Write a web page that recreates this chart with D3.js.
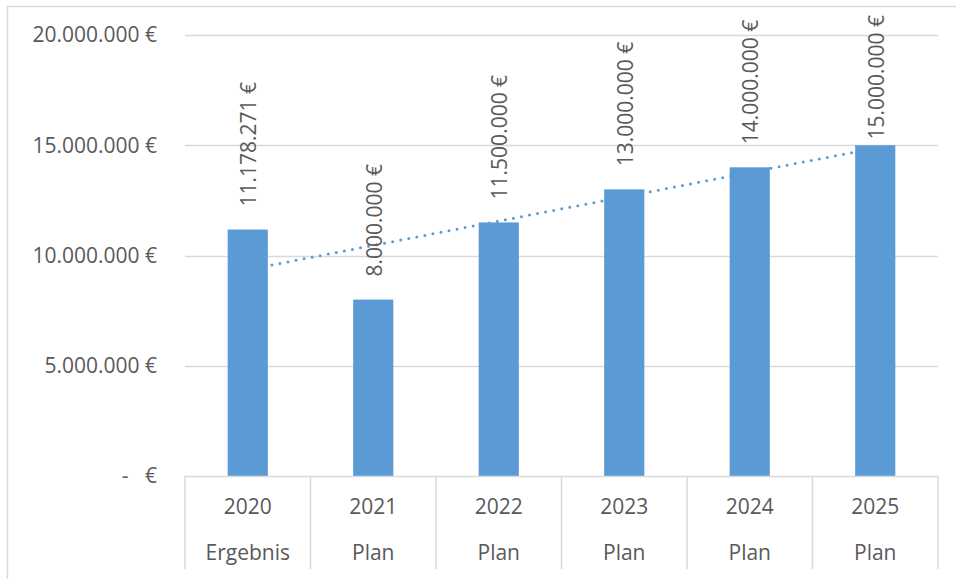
<!DOCTYPE html>
<html><head><meta charset="utf-8">
<script src="https://cdn.jsdelivr.net/npm/d3@7"></script>
<style>
html,body{margin:0;padding:0;background:#fff;}
svg text{font-family:"Open Sans","Noto Sans",sans-serif;fill:#595959;}
</style></head>
<body><svg id="c" width="956" height="579"></svg>
<script>
const years = ["2020","2021","2022","2023","2024","2025"];
const kinds = ["Ergebnis","Plan","Plan","Plan","Plan","Plan"];
const values = [11178271, 8000000, 11500000, 13000000, 14000000, 15000000];
const yTicks = [0, 5000000, 10000000, 15000000, 20000000];
const yTickLabels = ["-   €", "5.000.000 €", "10.000.000 €", "15.000.000 €", "20.000.000 €"];
const valueLabels = ["11.178.271 €","8.000.000 €","11.500.000 €","13.000.000 €","14.000.000 €","15.000.000 €"];

const svg = d3.select("#c");
const W = 956, H = 579;
const L = 185, R = 938, T = 35, B = 476;
const FS = 21;
const barColor = "#5b9bd5", gridColor = "#d9d9d9";

// outer chart border
svg.append("path").attr("d", `M7.5,${H+2} V6.5 H${W+2}`).attr("fill","none").attr("stroke",gridColor).attr("stroke-width",1.5);

const x = d3.scaleBand().domain(years).range([L, R]).paddingInner(0.68).paddingOuter(0.34);
const xs = d3.scaleBand().domain(years).range([L, R]).padding(0);
const y = d3.scaleLinear().domain([0, 20000000]).range([B, T]);

// gridlines
svg.append("g").selectAll("line").data(yTicks.slice(1)).join("line")
  .attr("x1", L).attr("x2", R).attr("y1", d => Math.round(y(d)) + 0.5).attr("y2", d => Math.round(y(d)) + 0.5)
  .attr("stroke", gridColor).attr("stroke-width", 1.5);

// y tick labels
svg.append("g").selectAll("text").data(yTicks).join("text")
  .attr("x", 157).attr("y", d => y(d)).attr("dy", "0.35em")
  .attr("text-anchor", "end").attr("font-size", FS).style("white-space","pre")
  .text((d, i) => yTickLabels[i]);

// trendline (linear regression over category index)
const n = values.length;
const xi = d3.range(1, n + 1);
const mx = d3.mean(xi), my = d3.mean(values);
const slope = d3.sum(xi, (v, i) => (v - mx) * (values[i] - my)) / d3.sum(xi, v => (v - mx) ** 2);
const icpt = my - slope * mx;
const trend = [[years[0], icpt + slope * 1], [years[n - 1], icpt + slope * n]];
svg.append("path")
  .attr("d", d3.line().x(d => x(d[0]) + x.bandwidth() / 2).y(d => y(d[1]))(trend))
  .attr("fill", "none").attr("stroke", barColor).attr("stroke-width", 3)
  .attr("stroke-linecap", "round").attr("stroke-dasharray", "0 8.2");

// bars
svg.append("g").selectAll("rect").data(values).join("rect")
  .attr("x", (d, i) => x(years[i])).attr("width", x.bandwidth())
  .attr("y", d => y(d)).attr("height", d => y(0) - y(d))
  .attr("fill", barColor);

// value labels
const lbl = svg.append("g").selectAll("text").data(values).join("text")
  .attr("font-size", FS).attr("text-anchor", "start").attr("dy", "0.35em")
  .text((d, i) => valueLabels[i]);
lbl.each(function(d, i) {
  const len = this.getComputedTextLength();
  let ys = y(d) - 23;
  if (ys - len < 15) ys = 15 + len;
  const cx = x(years[i]) + x.bandwidth() / 2 + 1;
  d3.select(this).attr("transform", `translate(${cx},${ys}) rotate(-90)`);
});

// category axis
svg.append("line").attr("x1", L).attr("x2", R).attr("y1", B + 0.5).attr("y2", B + 0.5)
  .attr("stroke", gridColor).attr("stroke-width", 1.5);
const seps = years.map(d => xs(d)).concat([R]);
svg.append("g").selectAll("line").data(seps).join("line")
  .attr("x1", d => d).attr("x2", d => d).attr("y1", B).attr("y2", 569)
  .attr("stroke", gridColor).attr("stroke-width", 1.5);
svg.append("g").selectAll("text").data(years).join("text")
  .attr("x", d => xs(d) + xs.bandwidth() / 2).attr("y", 507).attr("dy", "0.35em")
  .attr("text-anchor", "middle").attr("font-size", FS).text(d => d);
svg.append("g").selectAll("text").data(kinds).join("text")
  .attr("x", (d, i) => xs(years[i]) + xs.bandwidth() / 2).attr("y", 553).attr("dy", "0.35em")
  .attr("text-anchor", "middle").attr("font-size", FS).text(d => d);
</script></body></html>
